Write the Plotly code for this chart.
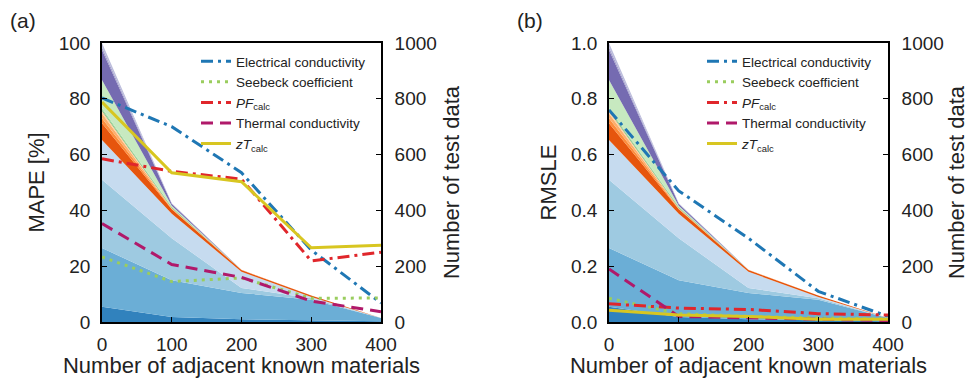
import plotly.graph_objects as go

# ---------------- data ----------------
adjacent = [0, 100, 200, 300, 400]

# number of test data per group (stacked, bottom to top), per adjacent count
test_counts = [
    [55, 18, 10, 6, 3],
    [210, 132, 94, 74, 11],
    [245, 150, 18, 5, 0],
    [142, 88, 58, 5, 0],
    [60, 16, 6, 5, 0],
    [18, 2, 0.5, 0, 0],
    [17, 2, 0.5, 0, 0],
    [10, 1, 0, 0, 0],
    [3, 1, 0, 0, 0],
    [2, 1, 0, 0, 0],
    [5, 2, 0, 0, 0],
    [100, 4, 0, 0, 0],
    [108, 6, 0, 0, 0],
    [10, 2, 0, 0, 0],
    [15, 1, 0, 0, 0],
]

series_names = ["Electrical conductivity", "Seebeck coefficient",
                "<i>PF</i><sub>calc</sub>", "Thermal conductivity",
                "<i>zT</i><sub>calc</sub>"]

mape = [
    [80.3, 70.0, 53.5, 25.8, 6.8],   # electrical conductivity
    [23.3, 14.5, 15.8, 8.5, 8.6],    # seebeck
    [58.5, 54.0, 51.2, 21.9, 25.0],  # PF calc
    [35.3, 20.6, 16.0, 7.5, 3.7],    # thermal conductivity
    [78.8, 53.5, 50.3, 26.6, 27.5],  # zT calc
]

rmsle = [
    [0.76, 0.47, 0.30, 0.11, 0.02],
    [0.085, 0.03, 0.02, 0.015, 0.01],
    [0.065, 0.05, 0.045, 0.03, 0.025],
    [0.19, 0.02, 0.015, 0.01, 0.005],
    [0.042, 0.025, 0.02, 0.01, 0.01],
]

x_ticks = [0, 100, 200, 300, 400]
mape_ticks = [0, 20, 40, 60, 80, 100]
rmsle_ticks = [0.0, 0.2, 0.4, 0.6, 0.8, 1.0]
count_ticks = [0, 200, 400, 600, 800, 1000]

# ---------------- style ----------------
stack_colors = ["#3182bd", "#6baed6", "#9ecae1", "#c6dbef",
                "#e6550d", "#fd8d3c", "#fdae6b", "#fdd0a2",
                "#31a354", "#74c476", "#a1d99b", "#c7e9c0",
                "#756bb1", "#9e9ac8", "#bcbddc"]
line_colors = ["#1f77b4", "#9acd5e", "#e0262b", "#b0196a", "#d8c621"]
line_dash = ["12px,5px,3px,5px", "3px,5px", "12px,5px,3px,5px", "12px,7px", "solid"]

FONT = "Liberation Sans, Arial, sans-serif"
TXT = "#222222"
W, H = 969, 378

fig = go.Figure()

panels = [
    dict(x="x", ycount="y", yerr="y2", vals=mape, legend="legend"),
    dict(x="x2", ycount="y3", yerr="y4", vals=rmsle, legend="legend2"),
]

for p in panels:
    for i, layer in enumerate(test_counts):
        fig.add_trace(go.Scatter(
            x=adjacent, y=layer, xaxis=p["x"], yaxis=p["ycount"],
            stackgroup="counts_" + p["x"], mode="lines",
            line=dict(width=0, color=stack_colors[i]),
            fillcolor=stack_colors[i], showlegend=False, hoverinfo="skip"))
    for i, name in enumerate(series_names):
        fig.add_trace(go.Scatter(
            x=adjacent, y=p["vals"][i], xaxis=p["x"], yaxis=p["yerr"],
            mode="lines", name=name, legend=p["legend"],
            line=dict(color=line_colors[i], width=3, dash=line_dash[i])))

ydom = [1 - 322 / H, 1 - 43 / H]
xdom_a = [102 / W, 381 / W]
xdom_b = [609 / W, 888 / W]

axis_common = dict(showline=True, linecolor="black", linewidth=1.6,
                   ticks="inside", ticklen=5, tickwidth=1.3, tickcolor="black",
                   showgrid=False, zeroline=False,
                   tickfont=dict(family=FONT, size=19, color=TXT),
                   automargin=False)
title_font = dict(family=FONT, size=22, color=TXT)


def xaxis(dom, anchor):
    return dict(axis_common, domain=dom, anchor=anchor, range=[0, 400],
                tickvals=x_ticks, mirror=True, ticklabelstandoff=4,
                title=dict(text="Number of adjacent known materials",
                           font=title_font, standoff=2))


def yaxis_count(anchor):
    return dict(axis_common, domain=ydom, anchor=anchor, side="right",
                range=[0, 1000], tickvals=count_ticks, ticklabelstandoff=8,
                title=dict(text="Number of test data", font=title_font, standoff=8))


def yaxis_err(anchor, over, rng, tv, tt, title):
    return dict(axis_common, domain=ydom, anchor=anchor, overlaying=over,
                side="left", range=rng, tickvals=tv, ticktext=tt,
                ticklabelstandoff=6,
                title=dict(text=title, font=title_font, standoff=8))


legend_common = dict(bgcolor="rgba(0,0,0,0)", borderwidth=0,
                     font=dict(family=FONT, size=13.5, color=TXT),
                     xanchor="left", yanchor="top", tracegroupgap=0,
                     itemwidth=30, traceorder="normal")

fig.update_layout(
    width=W, height=H,
    margin=dict(l=0, r=0, t=0, b=0),
    paper_bgcolor="white", plot_bgcolor="white",
    font=dict(family=FONT, color=TXT),
    xaxis=xaxis(xdom_a, "y"),
    xaxis2=xaxis(xdom_b, "y3"),
    yaxis=yaxis_count("x"),
    yaxis2=yaxis_err("x", "y", [0, 100], mape_ticks, [str(t) for t in mape_ticks], "MAPE [%]"),
    yaxis3=yaxis_count("x2"),
    yaxis4=yaxis_err("x2", "y3", [0, 1], rmsle_ticks, [f"{t:.1f}" for t in rmsle_ticks], "RMSLE"),
    legend=dict(legend_common, x=196 / W, y=1 - 46 / H),
    legend2=dict(legend_common, x=702 / W, y=1 - 46 / H),
    showlegend=True,
    annotations=[
        dict(text="(a)", x=8 / W, y=1 - 20 / H, xref="paper", yref="paper",
             xanchor="left", yanchor="middle", showarrow=False,
             font=dict(family=FONT, size=21, color=TXT)),
        dict(text="(b)", x=515 / W, y=1 - 20 / H, xref="paper", yref="paper",
             xanchor="left", yanchor="middle", showarrow=False,
             font=dict(family=FONT, size=21, color=TXT)),
    ],
)

fig.write_html("out.html")
